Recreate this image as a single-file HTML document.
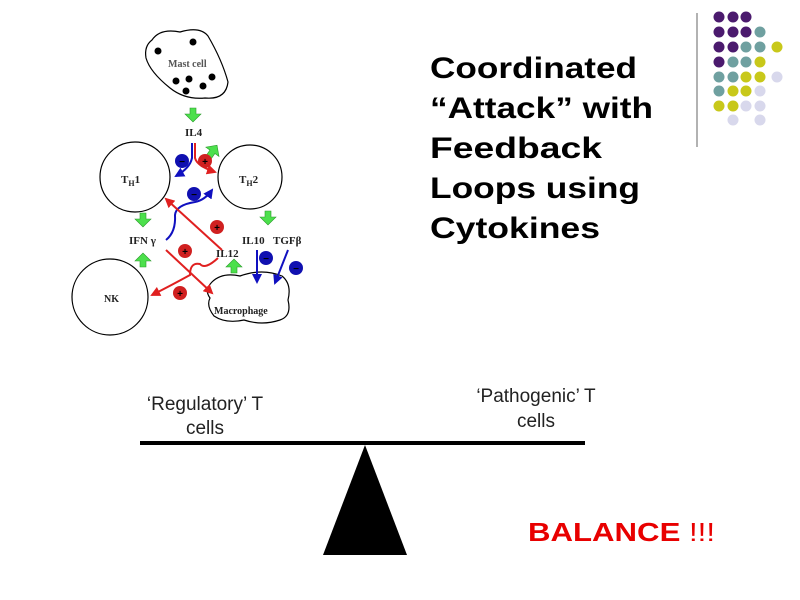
<!DOCTYPE html>
<html><head><meta charset="utf-8"><style>html,body{margin:0;padding:0;background:#fff}svg{display:block}</style></head>
<body>
<svg width="800" height="600" viewBox="0 0 800 600" xmlns="http://www.w3.org/2000/svg">
<defs>
<marker id="ar" viewBox="0 0 10 10" refX="8" refY="5" markerWidth="5" markerHeight="5" orient="auto"><path d="M0,0 L10,5 L0,10 z" fill="#e02020"/></marker>
<marker id="ab" viewBox="0 0 10 10" refX="8" refY="5" markerWidth="5" markerHeight="5" orient="auto"><path d="M0,0 L10,5 L0,10 z" fill="#1010c0"/></marker>
<g id="gd"><path d="M-3,-7 h6 v6 h5 l-8,8 l-8,-8 h5 z" fill="#4ce04c" stroke="#2a9a2a" stroke-width="0.6"/></g>
</defs>
<g font-family="Liberation Sans, sans-serif" font-weight="bold" font-size="30" fill="#000">
<text x="430" y="78" textLength="207" lengthAdjust="spacingAndGlyphs">Coordinated</text>
<text x="430" y="118" textLength="223" lengthAdjust="spacingAndGlyphs">“Attack” with</text>
<text x="430" y="158" textLength="172" lengthAdjust="spacingAndGlyphs">Feedback</text>
<text x="430" y="198" textLength="210" lengthAdjust="spacingAndGlyphs">Loops using</text>
<text x="430" y="238" textLength="170" lengthAdjust="spacingAndGlyphs">Cytokines</text>
</g>
<line x1="697" y1="13" x2="697" y2="147" stroke="#999" stroke-width="1.5"/>
<g>
<circle cx="719" cy="17" r="5.5" fill="#4b1a6e"/><circle cx="733" cy="17" r="5.5" fill="#4b1a6e"/><circle cx="746" cy="17" r="5.5" fill="#4b1a6e"/>
<circle cx="719" cy="32" r="5.5" fill="#4b1a6e"/><circle cx="733" cy="32" r="5.5" fill="#4b1a6e"/><circle cx="746" cy="32" r="5.5" fill="#4b1a6e"/><circle cx="760" cy="32" r="5.5" fill="#6fa0a0"/>
<circle cx="719" cy="47" r="5.5" fill="#4b1a6e"/><circle cx="733" cy="47" r="5.5" fill="#4b1a6e"/><circle cx="746" cy="47" r="5.5" fill="#6fa0a0"/><circle cx="760" cy="47" r="5.5" fill="#6fa0a0"/><circle cx="777" cy="47" r="5.5" fill="#c8c81a"/>
<circle cx="719" cy="62" r="5.5" fill="#4b1a6e"/><circle cx="733" cy="62" r="5.5" fill="#6fa0a0"/><circle cx="746" cy="62" r="5.5" fill="#6fa0a0"/><circle cx="760" cy="62" r="5.5" fill="#c8c81a"/>
<circle cx="719" cy="77" r="5.5" fill="#6fa0a0"/><circle cx="733" cy="77" r="5.5" fill="#6fa0a0"/><circle cx="746" cy="77" r="5.5" fill="#c8c81a"/><circle cx="760" cy="77" r="5.5" fill="#c8c81a"/><circle cx="777" cy="77" r="5.5" fill="#d8d8ec"/>
<circle cx="719" cy="91" r="5.5" fill="#6fa0a0"/><circle cx="733" cy="91" r="5.5" fill="#c8c81a"/><circle cx="746" cy="91" r="5.5" fill="#c8c81a"/><circle cx="760" cy="91" r="5.5" fill="#d8d8ec"/>
<circle cx="719" cy="106" r="5.5" fill="#c8c81a"/><circle cx="733" cy="106" r="5.5" fill="#c8c81a"/><circle cx="746" cy="106" r="5.5" fill="#d8d8ec"/><circle cx="760" cy="106" r="5.5" fill="#d8d8ec"/>
<circle cx="733" cy="120" r="5.5" fill="#d8d8ec"/><circle cx="760" cy="120" r="5.5" fill="#d8d8ec"/>
</g>
<g stroke="#000" stroke-width="1.2" fill="none">
<path d="M152,40 Q160,28 180,32 Q200,26 208,36 Q222,60 228,82 Q226,100 205,98 Q185,100 170,88 Q150,72 146,58 Q144,46 152,40 z"/>
<circle cx="135" cy="177" r="35"/>
<circle cx="250" cy="177" r="32"/>
<circle cx="110" cy="297" r="38"/>
<path d="M212,282 Q222,272 240,276 Q262,268 282,276 Q292,284 288,300 Q292,316 280,320 Q262,326 244,320 Q226,324 214,316 Q206,306 210,298 Q204,290 212,282 z"/>
</g>
<g fill="#000">
<circle cx="158" cy="51" r="3.5"/><circle cx="193" cy="42" r="3.5"/><circle cx="176" cy="81" r="3.5"/><circle cx="189" cy="79" r="3.5"/><circle cx="212" cy="77" r="3.5"/><circle cx="186" cy="91" r="3.5"/><circle cx="203" cy="86" r="3.5"/>
</g>
<g font-family="Liberation Serif, serif" font-weight="bold" fill="#222">
<text x="168" y="67" font-size="10" fill="#555">Mast cell</text>
<text x="185" y="136" font-size="11">IL4</text>
<text x="121" y="183" font-size="11">T<tspan font-size="8" dy="3">H</tspan><tspan dy="-3">1</tspan></text>
<text x="239" y="183" font-size="11">T<tspan font-size="8" dy="3">H</tspan><tspan dy="-3">2</tspan></text>
<text x="129" y="244" font-size="11">IFN γ</text>
<text x="216" y="257" font-size="11">IL12</text>
<text x="242" y="244" font-size="11">IL10</text>
<text x="273" y="244" font-size="11">TGFβ</text>
<text x="104" y="302" font-size="10">NK</text>
<text x="214" y="314" font-size="10">Macrophage</text>
</g>
<use href="#gd" x="193" y="115"/>
<use href="#gd" x="143" y="220"/>
<use href="#gd" x="268" y="218"/>
<use href="#gd" transform="translate(143,260) rotate(180)"/>
<use href="#gd" transform="translate(234,266) rotate(180)"/>
<use href="#gd" transform="translate(213,151) rotate(215)"/>
<g fill="none" stroke-width="2">
<path d="M192,143 L192,158 Q190,168 176,176" stroke="#1010c0" marker-end="url(#ab)"/>
<path d="M195,143 L195,158 Q197,166 215,172" stroke="#e02020" marker-end="url(#ar)"/>
<path d="M166,240 Q176,232 175,215 Q176,205 195,202 Q205,200 212,190" stroke="#1010c0" marker-end="url(#ab)"/>
<path d="M222,250 L166,199" stroke="#e02020" marker-end="url(#ar)"/>
<path d="M166,250 L212,293" stroke="#e02020" marker-end="url(#ar)"/>
<path d="M218,258 Q205,270 200,264 Q190,262 190,275 Q170,286 152,295" stroke="#e02020" marker-end="url(#ar)"/>
<path d="M257,250 L257,282" stroke="#1010c0" marker-end="url(#ab)"/>
<path d="M288,250 L275,283" stroke="#1010c0" marker-end="url(#ab)"/>
</g>
<g font-family="Liberation Sans, sans-serif" font-size="10" font-weight="bold" text-anchor="middle">
<circle cx="182" cy="161" r="7" fill="#1010b0"/><text x="182" y="165" fill="#000">−</text>
<circle cx="205" cy="161" r="7" fill="#d02020"/><text x="205" y="165" fill="#000">+</text>
<circle cx="194" cy="194" r="7" fill="#1010b0"/><text x="194" y="198" fill="#000">−</text>
<circle cx="217" cy="227" r="7" fill="#d02020"/><text x="217" y="231" fill="#000">+</text>
<circle cx="185" cy="251" r="7" fill="#d02020"/><text x="185" y="255" fill="#000">+</text>
<circle cx="180" cy="293" r="7" fill="#d02020"/><text x="180" y="297" fill="#000">+</text>
<circle cx="266" cy="258" r="7" fill="#1010b0"/><text x="266" y="262" fill="#000">−</text>
<circle cx="296" cy="268" r="7" fill="#1010b0"/><text x="296" y="272" fill="#000">−</text>
</g>
<rect x="140" y="441" width="445" height="4" fill="#000"/>
<polygon points="365,445 323,555 407,555" fill="#000"/>
<g font-family="Liberation Sans, sans-serif" font-size="19" fill="#222" text-anchor="middle">
<text x="205" y="410">‘Regulatory’ T</text>
<text x="205" y="434">cells</text>
<text x="536" y="402">‘Pathogenic’ T</text>
<text x="536" y="427">cells</text>
</g>
<text x="528" y="541" font-family="Liberation Sans, sans-serif" font-size="26" fill="#e80000" textLength="187" lengthAdjust="spacingAndGlyphs"><tspan font-weight="bold">BALANCE</tspan> !!!</text>
</svg>
</body></html>
